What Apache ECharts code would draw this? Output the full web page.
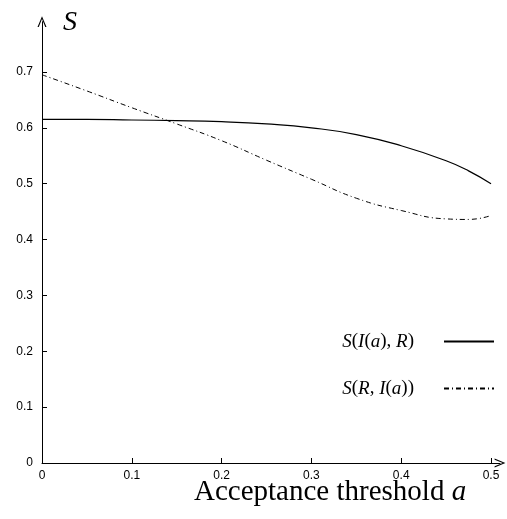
<!DOCTYPE html>
<html>
<head>
<meta charset="utf-8">
<style>
  html, body { margin: 0; padding: 0; background: #fff; }
  #chart { width: 507px; height: 519px; }
</style>
<script src="https://cdn.jsdelivr.net/npm/echarts@6/dist/echarts.min.js"></script>
</head>
<body>
<div id="chart"></div>
<script>
// threshold values a
const thresholds = [0, 0.05, 0.1, 0.15, 0.2, 0.25, 0.3, 0.35, 0.4, 0.45, 0.475, 0.5];
// S(I(a), R)
const sIR = [0.615, 0.615, 0.614, 0.613, 0.611, 0.607, 0.600, 0.588, 0.568, 0.541, 0.523, 0.500];
// S(R, I(a))
const sRI = [0.695, 0.666, 0.636, 0.607, 0.577, 0.542, 0.508, 0.474, 0.452, 0.437, 0.436, 0.443];
const xTicks = [0, 0.1, 0.2, 0.3, 0.4, 0.5];
const yTicks = [0, 0.1, 0.2, 0.3, 0.4, 0.5, 0.6, 0.7];

const serif = '"Liberation Serif", "DejaVu Serif", serif';
const sans = '"Liberation Sans", Arial, sans-serif';
const arrow = 'path://M0,12 L5,0 L10,12 L8.6,12 L5,3 L1.4,12 Z';

const legendLabels = {
    'S(I(a), R)': '{i|S}({i|I}({i|a}), {i|R}){g|}',
    'S(R, I(a))': '{i|S}({i|R}, {i|I}({i|a})){g|}'
};

const chart = echarts.init(document.getElementById('chart'));
chart.setOption({
    animation: false,
    grid: { left: 42, right: 7, top: 21.7, bottom: 56 },
    xAxis: {
        type: 'value', min: 0, max: 0.51,
        axisLine: { lineStyle: { color: '#000', width: 1 }, symbol: ['none', arrow], symbolSize: [9, 13] },
        axisTick: { inside: true, length: 5, lineStyle: { color: '#000' }, customValues: xTicks },
        axisLabel: { color: '#000', fontFamily: sans, fontSize: 12, margin: 7, customValues: xTicks },
        splitLine: { show: false }
    },
    yAxis: {
        type: 'value', min: 0, max: 0.79,
        axisLine: { show: true, lineStyle: { color: '#000', width: 1 }, symbol: ['none', arrow], symbolSize: [9, 13] },
        axisTick: { show: true, inside: true, length: 5, lineStyle: { color: '#000' }, customValues: yTicks },
        axisLabel: { color: '#000', fontFamily: sans, fontSize: 12, margin: 9, customValues: yTicks },
        splitLine: { show: false }
    },
    legend: {
        orient: 'vertical', right: 7, top: 327, align: 'right',
        itemWidth: 50, itemHeight: 14, itemGap: 28,
        itemStyle: { opacity: 0 },
        formatter: name => legendLabels[name],
        textStyle: {
            color: '#000', fontFamily: serif, fontSize: 19,
            rich: {
                i: { fontStyle: 'italic', fontFamily: serif, fontSize: 19 },
                g: { width: 25 }
            }
        }
    },
    graphic: [
        {
            type: 'text', left: 63, top: 9,
            style: { text: 'S', fontStyle: 'italic', fontFamily: serif, fontSize: 28, fill: '#000' }
        },
        {
            type: 'text', left: 194, top: 478,
            style: {
                text: 'Acceptance threshold {i|a}', fontFamily: serif, fontSize: 29, fill: '#000',
                rich: { i: { fontStyle: 'italic', fontFamily: serif, fontSize: 29 } }
            }
        }
    ],
    series: [
        {
            name: 'S(I(a), R)', type: 'line', smooth: true, symbol: 'none', color: '#000',
            data: thresholds.map((a, i) => [a, sIR[i]]),
            lineStyle: { color: '#000', width: 1.2 }
        },
        {
            name: 'S(R, I(a))', type: 'line', smooth: true, symbol: 'none', color: '#000',
            data: thresholds.map((a, i) => [a, sRI[i]]),
            lineStyle: { color: '#000', width: 1, type: [5, 3, 1, 3] }
        }
    ]
});
</script>
</body>
</html>
